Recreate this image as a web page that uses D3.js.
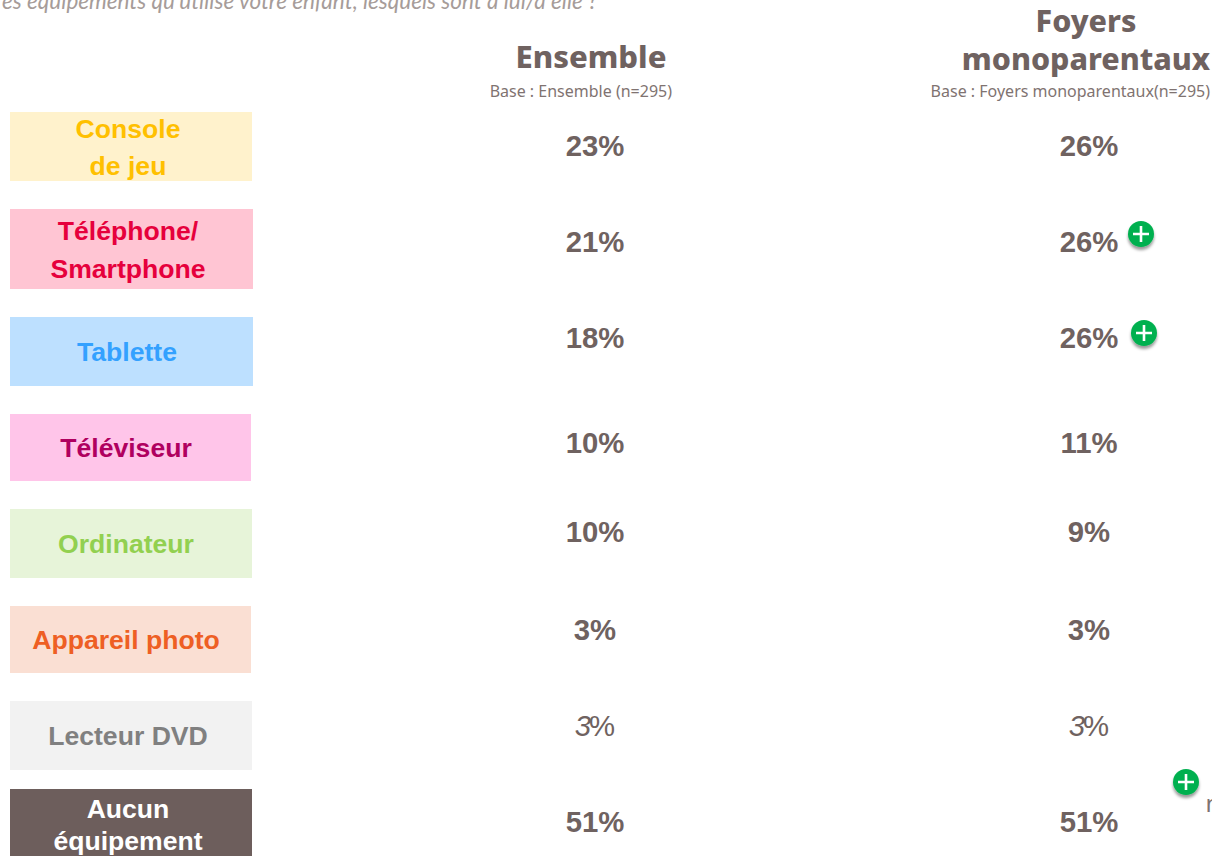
<!DOCTYPE html>
<html lang="fr">
<head>
<meta charset="utf-8">
<title>Équipements</title>
<script src="https://cdn.jsdelivr.net/npm/d3@7"></script>
<style>
  html, body { margin: 0; padding: 0; background: #fff; overflow: hidden; }
  svg { display: block; }
</style>
</head>
<body>
<div id="chart"></div>
<script>
// données
const categories = ['Console de jeu', 'Téléphone/ Smartphone', 'Tablette', 'Téléviseur', 'Ordinateur', 'Appareil photo', 'Lecteur DVD', 'Aucun équipement'];
const labelLines = [['Console', 'de jeu'], ['Téléphone/', 'Smartphone'], ['Tablette'], ['Téléviseur'], ['Ordinateur'], ['Appareil photo'], ['Lecteur DVD'], ['Aucun', 'équipement']];
const groups = ['Ensemble', 'Foyers monoparentaux'];
const groupLines = [['Ensemble'], ['Foyers', 'monoparentaux']];
const groupBases = ['Base : Ensemble (n=295)', 'Base : Foyers monoparentaux(n=295)'];
const ensemble = [23, 21, 18, 10, 10, 3, 3, 51];
const monoparentaux = [26, 26, 26, 11, 9, 3, 3, 51];
const significant = [false, true, true, false, false, false, false, false];
const lowBase = [false, false, false, false, false, false, true, false];
const question = "es équipements qu'utilise votre enfant, lesquels sont à lui/à elle ?";

// couleurs des étiquettes
const tileColors = ['#fff2cc', '#ffc5d3', '#bde0ff', '#ffc5e9', '#e7f4d9', '#fadfd3', '#f2f2f2', '#6d5e5c'];
const textColors = ['#ffc000', '#e6003c', '#33a1ff', '#b0005f', '#92d050', '#ee5f24', '#808080', '#ffffff'];

// la grille n'est pas tout à fait régulière sur l'original
const tileTop = [112, 209, 317, 414, 509, 606, 701, 789];
const tileBottom = [181, 289, 386, 481, 578, 673, 770, 860];
const tileLeft = [10, 10, 10, 10, 10, 10, 10, 10];
const tileRight = [252, 253, 253, 251, 252, 251, 252, 252];
const rowNudge = [0, -1, -1, 7.5, 0, 1.5, 1, 0];
const labelBase = [138, 240, 361, 457, 553, 649, 745, 818];
const labelGap = [37, 38, 0, 0, 0, 0, 0, 32];
const labelX = [128, 128, 127, 126, 126, 126, 128, 128];
const headerSize = [31, 30.4];

const width = 1212, height = 856;
const inkColor = '#6f6260';

const svg = d3.select('#chart').append('svg')
  .attr('width', width)
  .attr('height', height);

const defs = svg.append('defs');
const shadow = defs.append('filter').attr('id', 'badge-shadow')
  .attr('x', '-50%').attr('y', '-50%').attr('width', '200%').attr('height', '200%');
shadow.append('feDropShadow')
  .attr('dx', 0).attr('dy', 3).attr('stdDeviation', 1.8)
  .attr('flood-color', '#000').attr('flood-opacity', 0.4);

const rowY = d3.scalePoint().domain(categories).range([146, 822]);
const colX = d3.scalePoint().domain(groups).range([595, 1089]);
const fmt = v => d3.format('d')(v);

// question coupée en haut de l'image
svg.append('text')
  .attr('x', 2).attr('y', 9)
  .attr('font-family', 'Lato, sans-serif')
  .attr('font-style', 'italic')
  .attr('font-size', 22.5)
  .attr('fill', '#a69c99')
  .text(question);

// en-têtes
const headers = svg.append('g').selectAll('g').data(groups).join('g');
headers.each(function (g, i) {
  const sel = d3.select(this);
  const lines = groupLines[i];
  const cx = colX(g) - (i === 0 ? 4 : 3);
  const lastY = i === 0 ? 68 : 70;
  lines.forEach((line, k) => {
    sel.append('text')
      .attr('x', cx)
      .attr('y', lastY - (lines.length - 1 - k) * 38)
      .attr('text-anchor', 'middle')
      .attr('font-family', '"Noto Sans", sans-serif')
      .attr('font-weight', 800)
      .attr('font-size', headerSize[i])
      .attr('fill', inkColor)
      .text(line);
  });
  sel.append('text')
    .attr('x', i === 0 ? 672 : 1210)
    .attr('y', 97)
    .attr('text-anchor', 'end')
    .attr('font-family', '"Noto Sans", sans-serif')
    .attr('font-size', 16)
    .attr('fill', '#7f7371')
    .text(groupBases[i]);
});

// étiquettes de lignes
const tiles = svg.append('g').selectAll('g').data(categories).join('g');
tiles.append('rect')
  .attr('x', (d, i) => tileLeft[i])
  .attr('y', (d, i) => tileTop[i])
  .attr('width', (d, i) => tileRight[i] - tileLeft[i])
  .attr('height', (d, i) => tileBottom[i] - tileTop[i])
  .attr('fill', (d, i) => tileColors[i]);
tiles.each(function (d, i) {
  d3.select(this).selectAll('text').data(labelLines[i]).join('text')
    .attr('x', labelX[i])
    .attr('y', (t, k) => labelBase[i] + k * labelGap[i])
    .attr('text-anchor', 'middle')
    .attr('font-family', '"Liberation Sans", Arial, sans-serif')
    .attr('font-weight', 700)
    .attr('font-size', 26.6)
    .attr('fill', textColors[i])
    .text(t => t);
});

// valeurs
function drawValues(values, group) {
  const t = svg.append('g').selectAll('text').data(values).join('text')
    .attr('x', colX(group))
    .attr('y', (d, i) => rowY(categories[i]) + rowNudge[i] + 10)
    .attr('text-anchor', 'middle')
    .attr('font-family', '"Liberation Sans", Arial, sans-serif')
    .attr('font-size', 29.3)
    .attr('font-weight', (d, i) => lowBase[i] ? 400 : 700)
    .attr('fill', inkColor);
  t.append('tspan')
    .attr('font-style', (d, i) => lowBase[i] ? 'italic' : 'normal')
    .text(fmt);
  t.append('tspan')
    .attr('dx', (d, i) => lowBase[i] ? -2 : 0)
    .text('%');
}
drawValues(ensemble, groups[0]);
drawValues(monoparentaux, groups[1]);

// pastilles de différence significative
const badgeX = [1141, 1144];
const badgeY = [234, 333];
function drawBadge(x, y) {
  const b = svg.append('g').attr('transform', `translate(${x},${y})`);
  b.append('circle').attr('r', 13).attr('fill', '#00b050').attr('filter', 'url(#badge-shadow)');
  b.append('path').attr('d', 'M-8,0H8M0,-8V8').attr('stroke', '#fff').attr('stroke-width', 2.6).attr('fill', 'none');
}
significant.filter(Boolean).forEach((d, i) => drawBadge(badgeX[i], badgeY[i]));
drawBadge(1186, 782);

// reste de légende coupé au bord droit
svg.append('text')
  .attr('x', 1205.5).attr('y', 812)
  .attr('font-family', '"Noto Sans", sans-serif')
  .attr('font-size', 24)
  .attr('fill', '#7f7371')
  .text('n');
</script>
</body>
</html>
